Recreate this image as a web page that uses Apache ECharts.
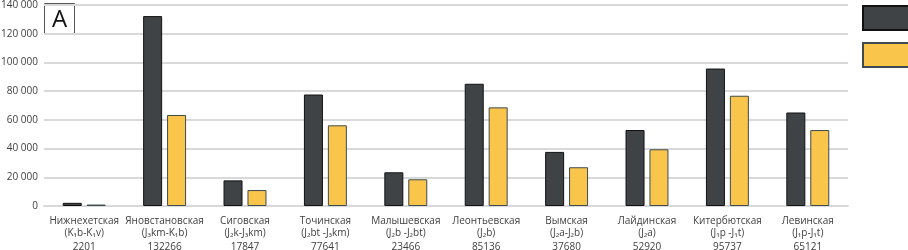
<!DOCTYPE html>
<html>
<head>
<meta charset="utf-8">
<script src="https://cdn.jsdelivr.net/npm/echarts@6/dist/echarts.min.js"></script>
<style>
  html, body { margin: 0; padding: 0; background: #fff; }
  #chart { width: 908px; height: 250px; }
</style>
</head>
<body>
<div id="chart"></div>
<script>
// свиты и их индексы
var suites = ['Нижнехетская', 'Яновстановская', 'Сиговская', 'Точинская', 'Малышевская',
  'Леонтьевская', 'Вымская', 'Лайдинская', 'Китербютская', 'Левинская']
var indexes = ['(K₁b-K₁v)', '(J₃km-K₁b)', '(J₂k-J₃km)', '(J₂bt -J₃km)', '(J₂b -J₂bt)',
  '(J₂b)', '(J₂a-J₂b)', '(J₂a)', '(J₁p -J₁t)', '(J₁p-J₁t)']
var darkValues = [2201, 132266, 17847, 77641, 23466, 85136, 37680, 52920, 95737, 65121]
var yellowValues = [1000, 63400, 11100, 56200, 18600, 68700, 27000, 39500, 76800, 52900]
var yTicks = [0, 20000, 40000, 60000, 80000, 100000, 120000, 140000]

var chart = echarts.init(document.getElementById('chart'))

chart.setOption({
  animation: false,
  textStyle: { fontFamily: 'Open Sans' },
  grid: { left: 44, right: 60, top: 5, bottom: 44, outerBoundsMode: 'none', containLabel: false },
  legend: {
    orient: 'vertical',
    left: 857,
    top: 0,
    itemWidth: 52,
    itemHeight: 24,
    itemGap: 11,
    icon: 'rect',
    formatter: function() { return '' },
    selectedMode: false,
    data: ['Серия 1', 'Серия 2']
  },
  xAxis: {
    type: 'category',
    data: suites,
    axisLine: { lineStyle: { color: '#d9d9d9', width: 2 } },
    axisTick: { show: false },
    axisLabel: {
      interval: 0,
      margin: 9,
      color: '#404040',
      fontSize: 10,
      formatter: function(val, i) {
        return '{a|' + val + '}\n{a|' + indexes[i] + '}\n{b|' + darkValues[i] + '}'
      },
      rich: {
        a: { fontSize: 10, lineHeight: 12, color: '#404040' },
        b: { fontSize: 10, lineHeight: 17, color: '#404040' }
      }
    }
  },
  yAxis: {
    type: 'value',
    min: yTicks[0],
    max: yTicks[yTicks.length - 1],
    interval: 20000,
    axisLine: { show: false },
    axisTick: { show: false },
    splitLine: { lineStyle: { color: '#d9d9d9', width: 2 } },
    axisLabel: {
      margin: 6,
      color: '#404040',
      fontSize: 10,
      formatter: function(v) {
        return String(v).replace(/\B(?=(\d{3})+(?!\d))/g, ' ')
      }
    }
  },
  series: [
    {
      name: 'Серия 1',
      type: 'bar',
      barWidth: 19,
      barGap: '26%',
      data: darkValues,
      itemStyle: { color: '#404345', borderColor: '#111', borderWidth: 1 }
    },
    {
      name: 'Серия 2',
      type: 'bar',
      barWidth: 19,
      data: yellowValues,
      itemStyle: { color: '#f9c64b', borderColor: '#3e4a52', borderWidth: 1 }
    }
  ],
  graphic: [{
    type: 'group',
    left: 44,
    top: 3,
    children: [
      { type: 'rect', shape: { x: 0.5, y: 0.5, width: 30, height: 30 },
        style: { fill: '#fff', stroke: '#555', lineWidth: 1 } },
      { type: 'text', x: 15.5, y: 17,
        style: { text: 'A', font: '24px "Open Sans"', fill: '#111', align: 'center', verticalAlign: 'middle' } }
    ]
  }]
})
</script>
</body>
</html>
